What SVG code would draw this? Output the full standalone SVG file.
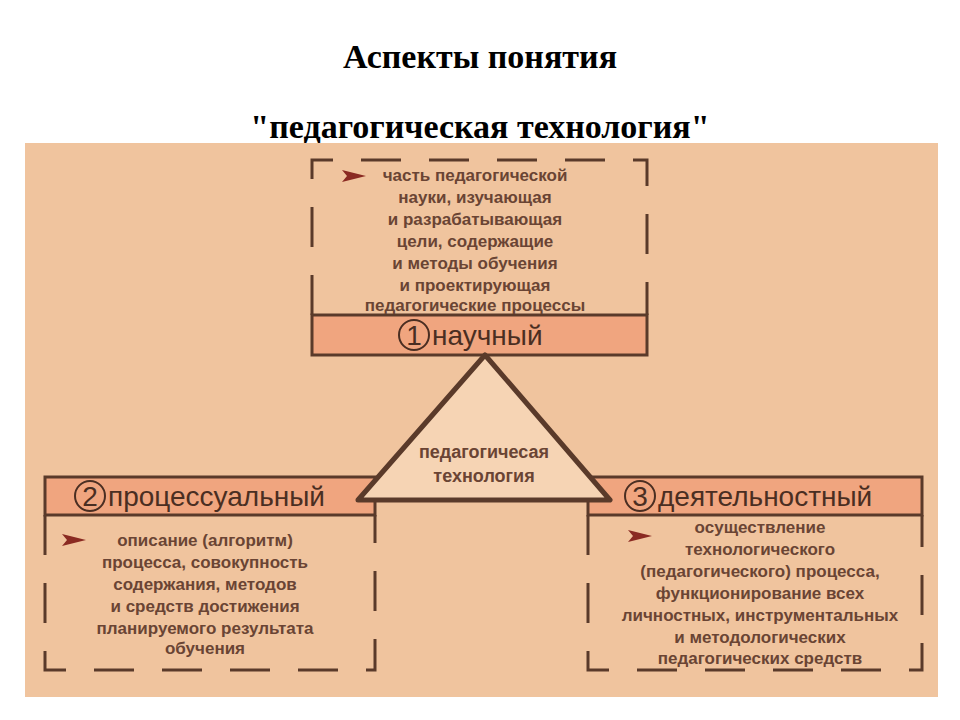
<svg xmlns="http://www.w3.org/2000/svg" width="960" height="720" viewBox="0 0 960 720">
<defs>
<style>
.t{font-family:"Liberation Serif",serif;font-weight:bold;font-size:34px;fill:#000;text-anchor:middle}
.b{font-family:"Liberation Sans",Arial,sans-serif;font-size:17px;font-weight:bold;fill:#6a4434;text-anchor:middle}
.lab{font-family:"Liberation Sans",Arial,sans-serif;font-size:28px;fill:#4a2e22}
.band{fill:#f0a57f;stroke:#5a3a2a;stroke-width:3}
.dash{fill:none;stroke:#5a3a2a;stroke-width:3;stroke-dasharray:40 28}
.num{fill:none;stroke:#4a2e22;stroke-width:2}
</style>
<path id="arr" d="M0 0 L24 6 L0 12 L5 6 Z" fill="#8a2a22"/>
</defs>
<rect width="960" height="720" fill="#fff"/>
<text class="t" x="480" y="68">Аспекты понятия</text>
<text class="t" x="480" y="138">"педагогическая технология"</text>
<rect x="25" y="143" width="913" height="554" fill="#f0c49e"/>
<g id="connectors">
<path class="dash" d="M312 315 V160 H647 V315"/>
<path class="dash" d="M45 515 V670 H375 V515"/>
<path class="dash" d="M588 515 V670 H922 V515"/>
</g>
<g id="node1">
<rect class="band" x="312" y="315" width="335" height="40"/>
<circle class="num" cx="414" cy="335" r="15"/>
<text class="lab" x="414" y="345" text-anchor="middle">1</text>
<text class="lab" x="432" y="345">научный</text>
<use href="#arr" x="342" y="170"/>
<text class="b"><tspan x="475" y="181">часть педагогической</tspan><tspan x="475" y="203">науки, изучающая</tspan><tspan x="475" y="225">и разрабатывающая</tspan><tspan x="475" y="247">цели, содержащие</tspan><tspan x="475" y="269">и методы обучения</tspan><tspan x="475" y="291">и проектирующая</tspan><tspan x="475" y="311">педагогические процессы</tspan></text>
</g>
<g id="node2">
<rect class="band" x="45" y="477" width="330" height="38"/>
<circle class="num" cx="90" cy="496" r="15"/>
<text class="lab" x="90" y="506" text-anchor="middle">2</text>
<text class="lab" x="108" y="506">процессуальный</text>
<use href="#arr" x="62" y="534"/>
<text class="b"><tspan x="205" y="546">описание (алгоритм)</tspan><tspan x="205" y="568">процесса, совокупность</tspan><tspan x="205" y="590">содержания, методов</tspan><tspan x="205" y="612">и средств достижения</tspan><tspan x="205" y="634">планируемого результата</tspan><tspan x="205" y="654">обучения</tspan></text>
</g>
<g id="node3">
<rect class="band" x="588" y="477" width="334" height="38"/>
<circle class="num" cx="640" cy="496" r="15"/>
<text class="lab" x="640" y="506" text-anchor="middle">3</text>
<text class="lab" x="658" y="506">деятельностный</text>
<use href="#arr" x="628" y="530"/>
<text class="b"><tspan x="760" y="533">осуществление</tspan><tspan x="760" y="555">технологического</tspan><tspan x="760" y="577">(педагогического) процесса,</tspan><tspan x="760" y="599">функционирование всех</tspan><tspan x="760" y="621">личностных, инструментальных</tspan><tspan x="760" y="643">и методологических</tspan><tspan x="760" y="664">педагогических средств</tspan></text>
</g>
<g id="center">
<polygon points="485,355 610,500 358,500" fill="#f6d4b4" stroke="#5a3a2a" stroke-width="5" stroke-linejoin="round"/>
<text class="b" style="font-size:18px"><tspan x="484" y="458">педагогичесая</tspan><tspan x="484" y="482">технология</tspan></text>
</g>
</svg>
